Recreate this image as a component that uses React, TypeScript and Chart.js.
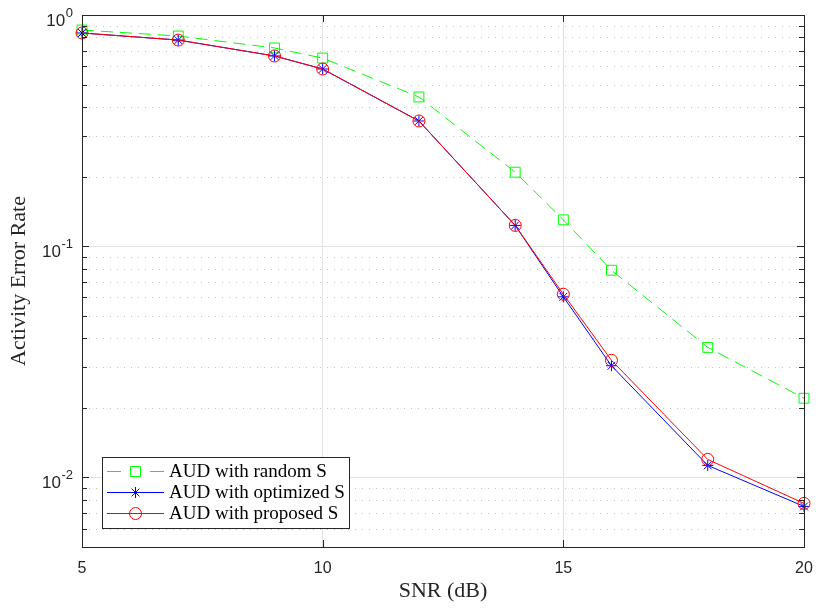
import React, { useEffect, useRef } from 'react';
import { Chart, registerables } from 'chart.js';

Chart.register(...registerables);

// ---- data ----
const snr = [5, 7, 9, 10, 12, 14, 15, 16, 18, 20];
const aerRandom = [0.861, 0.811, 0.72, 0.651, 0.442, 0.209, 0.13, 0.0787, 0.0365, 0.022];
const aerOptimized = [0.836, 0.779, 0.665, 0.584, 0.348, 0.123, 0.0604, 0.0304, 0.01127, 0.00749];
const aerProposed = [0.836, 0.779, 0.665, 0.584, 0.348, 0.123, 0.062, 0.0321, 0.01196, 0.00772];
const xTicks = [5, 10, 15, 20];
const yDecades = [-2, -1, 0];
const yMin = 0.005;
const yMax = 1;
const seriesLabels = ['AUD with random S', 'AUD with optimized S', 'AUD with proposed S'];
const seriesColors = ['#00ff00', '#0000ff', '#ff0000'];
const seriesMarkers = ['rect', 'star', 'circle'];

const AXIS_COLOR = '#262626';
const GRID_COLOR = '#e2e2e2';
const MINOR_GRID_COLOR = 'rgba(38,38,38,0.28)';
const SANS = "'Liberation Sans', Arial, sans-serif";
const SERIF = "'Liberation Serif', 'Times New Roman', serif";

const isDecade = (v: number) => {
  const l = Math.log10(v);
  return Math.abs(l - Math.round(l)) < 1e-6;
};

const minorValues: number[] = [];
for (let k = -3; k <= 0; k++) {
  for (let m = 2; m <= 9; m++) {
    const v = m * Math.pow(10, k);
    if (v >= yMin - 1e-12 && v <= yMax + 1e-12) minorValues.push(v);
  }
}

function drawMarker(ctx: CanvasRenderingContext2D, style: string, cx: number, cy: number, color: string) {
  ctx.save();
  ctx.strokeStyle = color;
  ctx.lineWidth = 1;
  ctx.setLineDash([]);
  ctx.beginPath();
  if (style === 'rect') {
    const s = 5;
    ctx.rect(cx - s, cy - s, 2 * s, 2 * s);
  } else if (style === 'circle') {
    ctx.arc(cx, cy, 6, 0, Math.PI * 2);
  } else {
    const r = 5.5;
    const d = r * Math.SQRT1_2;
    ctx.moveTo(cx - r, cy); ctx.lineTo(cx + r, cy);
    ctx.moveTo(cx, cy - r); ctx.lineTo(cx, cy + r);
    ctx.moveTo(cx - d, cy - d); ctx.lineTo(cx + d, cy + d);
    ctx.moveTo(cx - d, cy + d); ctx.lineTo(cx + d, cy - d);
  }
  ctx.stroke();
  ctx.restore();
}

const matlabPlugin = {
  id: 'matlabAxes',
  beforeDatasetsDraw(chart: any) {
    const { ctx, chartArea, scales } = chart;
    const { left, right } = chartArea;
    const y = scales.y;
    ctx.save();
    ctx.strokeStyle = MINOR_GRID_COLOR;
    ctx.lineWidth = 1;
    ctx.setLineDash([1, 6]);
    for (const v of minorValues) {
      const py = Math.round(y.getPixelForValue(v)) + 0.5;
      ctx.beginPath();
      ctx.moveTo(left, py);
      ctx.lineTo(right, py);
      ctx.stroke();
    }
    ctx.restore();
  },
  afterDatasetsDraw(chart: any) {
    const { ctx, chartArea, scales } = chart;
    const { left, right, top, bottom } = chartArea;
    const x = scales.x;
    const y = scales.y;
    ctx.save();
    ctx.strokeStyle = AXIS_COLOR;
    ctx.lineWidth = 1;
    ctx.setLineDash([]);
    // box
    ctx.strokeRect(Math.round(left) + 0.5, Math.round(top) + 0.5, Math.round(right - left), Math.round(bottom - top));
    ctx.beginPath();
    // x ticks (inward, top & bottom)
    for (const v of xTicks) {
      const px = Math.round(x.getPixelForValue(v)) + 0.5;
      ctx.moveTo(px, bottom); ctx.lineTo(px, bottom - 7);
      ctx.moveTo(px, top); ctx.lineTo(px, top + 7);
    }
    // y major ticks
    for (const k of yDecades) {
      const py = Math.round(y.getPixelForValue(Math.pow(10, k))) + 0.5;
      ctx.moveTo(left, py); ctx.lineTo(left + 7, py);
      ctx.moveTo(right, py); ctx.lineTo(right - 7, py);
    }
    // y minor ticks
    for (const v of minorValues) {
      const py = Math.round(y.getPixelForValue(v)) + 0.5;
      ctx.moveTo(left, py); ctx.lineTo(left + 5, py);
      ctx.moveTo(right, py); ctx.lineTo(right - 5, py);
    }
    ctx.stroke();
    ctx.restore();
  },
  afterDraw(chart: any) {
    const { ctx, chartArea, scales } = chart;
    const y = scales.y;
    ctx.save();
    // y tick labels with superscript exponents
    ctx.fillStyle = AXIS_COLOR;
    ctx.textBaseline = 'alphabetic';
    ctx.textAlign = 'left';
    const labelRight = chartArea.left - 9;
    for (const k of yDecades) {
      const py = y.getPixelForValue(Math.pow(10, k));
      const exp = String(k);
      ctx.font = `13px ${SANS}`;
      const wExp = ctx.measureText(exp).width;
      ctx.font = `17px ${SANS}`;
      const wBase = ctx.measureText('10').width;
      const xExp = labelRight - wExp;
      ctx.fillText('10', xExp - wBase - 0.5, py + 11);
      ctx.font = `13px ${SANS}`;
      ctx.fillText(exp, xExp, py + 2);
    }
    // legend
    const bx = 102, by = 457, bw = 247, bh = 71;
    ctx.fillStyle = '#ffffff';
    ctx.fillRect(bx, by, bw, bh);
    ctx.strokeStyle = AXIS_COLOR;
    ctx.lineWidth = 1;
    ctx.strokeRect(bx + 0.5, by + 0.5, bw, bh);
    const rows = [471, 492, 513];
    chart.data.datasets.forEach((ds: any, i: number) => {
      const ry = rows[i] + 0.5;
      ctx.save();
      ctx.strokeStyle = ds.borderColor;
      ctx.lineWidth = 1;
      ctx.setLineDash(ds.borderDash && ds.borderDash.length ? [14, 29] : []);
      ctx.beginPath();
      ctx.moveTo(107, ry);
      ctx.lineTo(164, ry);
      ctx.stroke();
      ctx.restore();
      drawMarker(ctx, seriesMarkers[i], 135.5, ry, ds.borderColor);
      ctx.fillStyle = '#000000';
      ctx.font = `19px ${SERIF}`;
      ctx.textBaseline = 'middle';
      ctx.textAlign = 'left';
      ctx.fillText(ds.label, 169, rows[i] + 1);
    });
    ctx.restore();
  },
};

export default function App() {
  const canvasRef = useRef<HTMLCanvasElement | null>(null);

  useEffect(() => {
    if (!canvasRef.current) return;
    const series = [aerRandom, aerOptimized, aerProposed];
    const chart = new Chart(canvasRef.current, {
      type: 'line',
      data: {
        datasets: series.map((vals, i) => ({
          label: seriesLabels[i],
          data: snr.map((s, j) => ({ x: s, y: vals[j] })),
          borderColor: seriesColors[i],
          backgroundColor: 'transparent',
          borderWidth: 1,
          borderDash: i === 0 ? [12, 7] : [],
          pointStyle: seriesMarkers[i] as any,
          pointRadius: i === 0 ? 7 : i === 1 ? 5.5 : 6,
          pointBorderColor: seriesColors[i],
          pointBackgroundColor: 'transparent',
          pointBorderWidth: 1,
          fill: false,
          tension: 0,
          clip: false,
          order: 3 - i,
        })),
      },
      options: {
        responsive: false,
        animation: false,
        devicePixelRatio: 1,
        layout: { padding: { top: 15, right: 16, bottom: 0, left: 0 } },
        plugins: {
          legend: { display: false },
          tooltip: { enabled: false },
        },
        scales: {
          x: {
            type: 'linear',
            min: 5,
            max: 20,
            afterBuildTicks: (scale: any) => {
              scale.ticks = xTicks.map((v) => ({ value: v }));
            },
            grid: { color: GRID_COLOR, drawTicks: false },
            border: { display: false },
            ticks: {
              font: { family: SANS, size: 16 },
              color: AXIS_COLOR,
              padding: 12,
              maxRotation: 0,
              autoSkip: false,
            },
            title: {
              display: true,
              text: 'SNR (dB)',
              font: { family: SERIF, size: 22 },
              color: AXIS_COLOR,
              padding: { top: 0, bottom: 5 },
            },
            afterFit: (scale: any) => {
              scale.height = 62;
              scale.paddingLeft = 0;
              scale.paddingRight = 0;
            },
          },
          y: {
            type: 'logarithmic',
            min: yMin,
            max: yMax,
            grid: {
              color: (c: any) => (c.tick && isDecade(c.tick.value) ? GRID_COLOR : 'rgba(0,0,0,0)'),
              drawTicks: false,
            },
            border: { display: false },
            ticks: { display: false },
            title: {
              display: true,
              text: 'Activity Error Rate',
              font: { family: SERIF, size: 22 },
              color: AXIS_COLOR,
              padding: { top: 6, bottom: 0 },
            },
            afterFit: (scale: any) => {
              scale.width = 82;
            },
          },
        },
      },
      plugins: [matlabPlugin],
    });
    return () => chart.destroy();
  }, []);

  return (
    <div style={{ position: 'absolute', left: 0, top: 0, width: 820, height: 609, background: '#ffffff' }}>
      <canvas ref={canvasRef} width={820} height={609} style={{ display: 'block', width: 820, height: 609 }} />
    </div>
  );
}
